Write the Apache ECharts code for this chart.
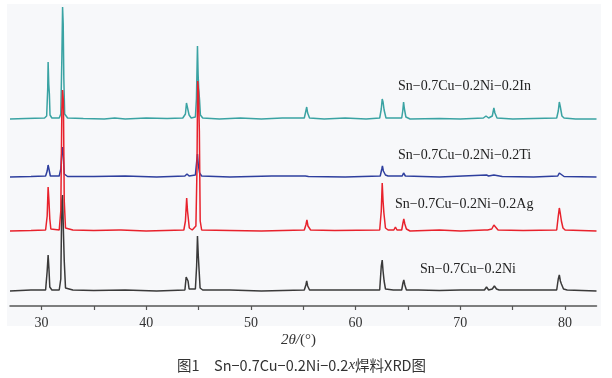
<!DOCTYPE html>
<html><head><meta charset="utf-8">
<script src="https://cdn.jsdelivr.net/npm/echarts@6/dist/echarts.min.js"></script>
<style>html,body{margin:0;padding:0;background:#fff}#c{width:612px;height:378px}</style>
</head><body><div id="c"></div>
<script>
// Sample labels (top to bottom)
const seriesNames = ['Sn\u22120.7Cu\u22120.2Ni\u22120.2In','Sn\u22120.7Cu\u22120.2Ni\u22120.2Ti','Sn\u22120.7Cu\u22120.2Ni\u22120.2Ag','Sn\u22120.7Cu\u22120.2Ni'];
// vertical stacking offsets (a.u.)
const offsets = [187, 129, 75, 15];
const tickValues = [30,35,40,45,50,55,60,65,70,75,80];
const tickLabels = [30,40,50,60,70,80];
// [2θ, intensity] traces
const traceIn = [[27,0],[28.5,0.5],[30.3,1],[30.5,3],[30.6,30],[30.64,57],[30.7,35],[30.76,25],[30.82,4],[31,1],[31.7,1],[31.85,5],[31.95,60],[32.02,112],[32.08,95],[32.14,40],[32.22,5],[32.5,1],[34,0.5],[36,0],[37,1],[38,0],[40,1],[42,0.5],[43.5,1],[43.75,5],[43.85,16],[43.95,14],[44.02,15],[44.1,4],[44.3,1],[44.7,2],[44.8,20],[44.9,73],[44.96,45],[45.02,30],[45.1,19],[45.18,4],[45.4,1],[47,0],[49,1],[51,0],[53,1],[55.1,1],[55.25,8],[55.33,12],[55.42,6],[55.6,1],[57,0],[59,1],[61,0],[62.3,1],[62.45,10],[62.54,20],[62.62,17],[62.72,9],[62.9,1],[63.6,1],[63.78,3],[63.95,1],[64.4,1],[64.5,8],[64.58,17],[64.66,10],[64.8,2],[65.2,0],[68,0.5],[70,0],[72.2,1],[72.45,3],[72.7,1],[73.05,3],[73.2,11],[73.3,6],[73.5,1],[75,0],[77,0.5],[79.2,1],[79.35,8],[79.45,17],[79.55,12],[79.7,3],[79.9,1],[81,0],[83,0]];
const traceTi = [[27,0],[29,0.5],[30.4,1],[30.55,6],[30.64,12],[30.72,8],[30.85,1],[31.7,1],[31.85,8],[31.95,25],[32.02,30],[32.08,22],[32.18,3],[32.5,0.5],[35,0.5],[38,1],[41,0],[43.7,1],[43.9,3],[44.1,1],[44.7,2],[44.82,15],[44.9,23],[44.98,12],[45.1,4],[45.3,1],[48,0],[52,1],[55.2,1],[55.33,3],[55.5,0.5],[59,0],[62.35,1],[62.5,8],[62.56,11],[62.65,6],[62.85,2],[63.1,1],[64.45,1],[64.58,4],[64.75,1],[68,0],[72.5,2],[72.7,1],[73.2,2],[74,0.5],[77,0],[79.3,1],[79.45,4],[79.6,2],[79.9,0.5],[83,0]];
const traceAg = [[27,0],[29,0.5],[30.4,1],[30.55,15],[30.64,44],[30.72,30],[30.8,12],[30.9,2],[31.7,1],[31.85,20],[31.95,120],[32.02,141],[32.1,130],[32.18,30],[32.3,3],[33,1],[35,0.5],[37.4,1],[37.5,3],[37.6,1],[40,0],[43.6,1],[43.75,10],[43.87,33],[43.95,20],[44.02,18],[44.12,3],[44.4,1],[44.75,5],[44.85,60],[44.92,150],[45.0,140],[45.08,100],[45.16,10],[45.3,1],[48,0.5],[51,0],[55.1,1],[55.25,6],[55.35,11],[55.45,5],[55.7,1],[58,0.5],[62.3,1],[62.45,20],[62.54,48],[62.62,30],[62.7,18],[62.85,3],[63.1,1],[63.65,1],[63.8,4],[63.95,1],[64.4,1],[64.52,8],[64.6,12],[64.7,7],[64.85,2],[65.2,0],[68,1],[70,0],[72.3,1],[72.45,3],[72.6,1],[73,2],[73.2,6],[73.35,4],[73.6,1],[76,0.5],[79.2,1],[79.35,15],[79.45,23],[79.55,17],[79.65,10],[79.8,3],[80,1],[83,0]];
const traceNi = [[27,0],[29,1],[30.4,1],[30.55,20],[30.64,36],[30.72,22],[30.8,4],[31,1],[31.7,1],[31.85,12],[31.95,90],[32.02,96],[32.1,60],[32.18,30],[32.3,3],[33,1],[35,0.5],[38,1],[41,0],[43.7,1],[43.82,14],[43.9,16],[44.0,10],[44.1,2],[44.7,2],[44.82,25],[44.9,55],[44.98,35],[45.06,20],[45.15,3],[45.4,1],[48,1],[51,0],[55.1,1],[55.25,6],[55.33,10],[55.42,5],[55.6,1],[58,1],[62.3,1],[62.45,25],[62.54,31],[62.62,20],[62.72,10],[62.85,2],[63.6,1],[63.78,3],[63.95,1],[64.4,1],[64.52,8],[64.6,11],[64.7,6],[64.85,1],[66,1],[68,0.5],[70,1],[72.3,1],[72.5,4],[72.7,1],[73.05,2],[73.25,5],[73.45,2],[73.7,1],[76,1],[79.2,1],[79.35,12],[79.45,16],[79.55,10],[79.65,7],[79.85,2],[80.2,1],[83,0]];

const traces = [traceIn, traceTi, traceAg, traceNi];
const colors = ['#3aa3a3', '#2e3f9e', '#e8222c', '#3a3a3a'];
const zs = [2, 3, 5, 4];
const serif = '"Liberation Serif","DejaVu Serif",serif';

const chart = echarts.init(document.getElementById('c'), null, {renderer:'canvas'});
const series = traces.map((t, i) => ({
  name: seriesNames[i], type: 'line', showSymbol: false, symbol: 'none',
  data: t.map(p => [p[0], p[1] + offsets[i]]),
  lineStyle: {color: colors[i], width: 1.5}, z: zs[i], animation: false
}));
chart.setOption({
  animation: false,
  grid: {left: 10, right: 15.5, top: 6, bottom: 72},
  xAxis: {
    type: 'value', min: 27, max: 83,
    axisLine: {show: true, onZero: false, lineStyle: {color: '#555', width: 1.5}},
    axisTick: {show: true, inside: false, length: 4, customValues: tickValues, lineStyle: {color: '#555', width: 1.2}},
    axisLabel: {customValues: tickLabels, color: '#333', fontFamily: serif, fontSize: 14, margin: 10},
    splitLine: {show: false}
  },
  yAxis: {type: 'value', min: 0, max: 300, show: false, splitLine: {show: false}},
  graphic: [
    {type: 'rect', z: -10, silent: true, shape: {x: 7, y: 4, width: 594, height: 322}, style: {fill: '#f7f8fa'}},
    {type: 'text', left: 398, top: 79, style: {text: seriesNames[0], font: '14px ' + serif, fill: '#222'}},
    {type: 'text', left: 398, top: 148, style: {text: seriesNames[1], font: '14px ' + serif, fill: '#222'}},
    {type: 'text', left: 395, top: 197, style: {text: seriesNames[2], font: '14px ' + serif, fill: '#222'}},
    {type: 'text', left: 420, top: 262, style: {text: seriesNames[3], font: '14px ' + serif, fill: '#222'}},
    {type: 'text', left: 281, top: 333, style: {
      text: '{i|2\u03b8/}{n|(\u00b0)}',
      rich: {i: {fontFamily: serif, fontStyle: 'italic', fontSize: 15, fill: '#333'}, n: {fontFamily: serif, fontSize: 15, fill: '#333'}}
    }},
    {type: 'text', left: 177, top: 358, style: {
      text: '{a|图1\u3000Sn\u22120.7Cu\u22120.2Ni\u22120.2}{x|x}{a|焊料XRD图}',
      rich: {a: {fontFamily: '"Noto Sans CJK SC","Noto Sans",sans-serif', fontSize: 14.5, fill: '#333'}, x: {fontFamily: serif, fontStyle: 'italic', fontSize: 15, fill: '#333'}}
    }}
  ],
  series: series
});
</script></body></html>
